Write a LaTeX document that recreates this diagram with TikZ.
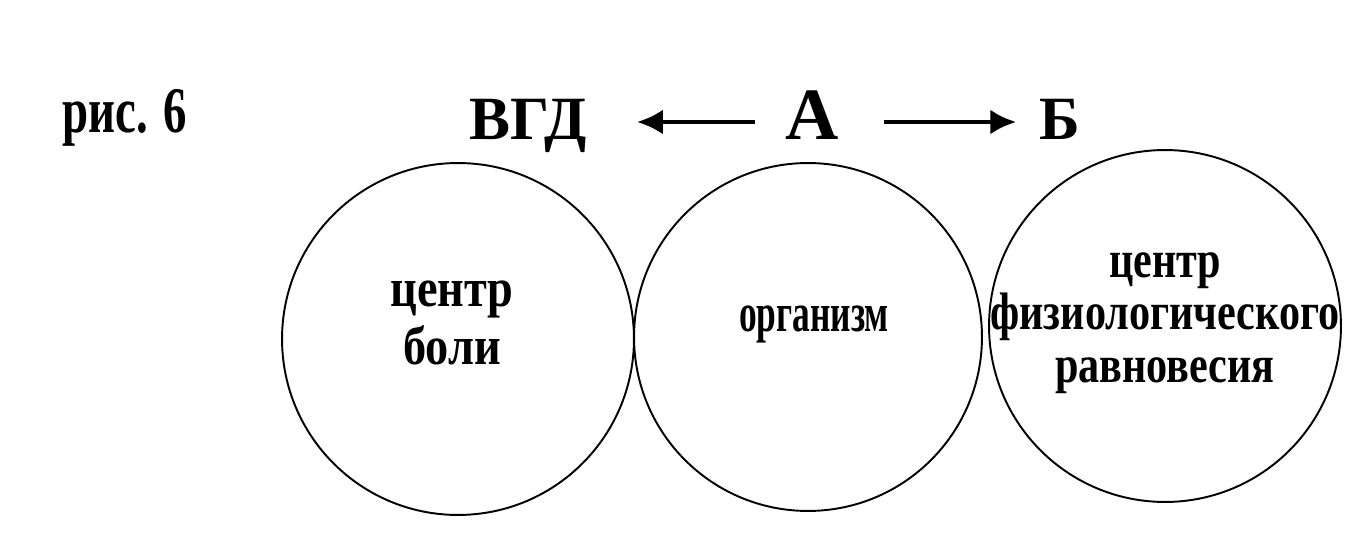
\documentclass[tikz,border=0pt]{standalone}
\usepackage{fontspec}
\setmainfont{Liberation Serif}
\newfontfamily\narrowserif[FakeStretch=0.72]{Liberation Serif}
\newfontfamily\painserif[FakeStretch=0.85]{Liberation Serif}
\newfontfamily\bodyserif[FakeStretch=0.65]{Liberation Serif}
\newfontfamily\balanceserif[FakeStretch=0.8]{Liberation Serif}
\usetikzlibrary{arrows.meta,positioning}

\begin{document}
\begin{tikzpicture}[x=0.02cm, y=-0.02cm]
			\tikzstyle{Ring}	= [circle, draw, line width=1.1pt, minimum size=7.04cm, inner sep=0pt]
			\tikzstyle{Inside}	= [align=center, inner sep=0pt]
			\tikzstyle{Head}	= [anchor=base, inner xsep=0pt, text height=0.9cm, text depth=0.18cm, font=\bfseries\fontsize{35pt}{37pt}\selectfont]
			\tikzstyle{Arr}		= [line width=0.095cm, -{Latex[length=0.52cm, width=0.5cm]}]

			\useasboundingbox (0,0) rectangle (1366,560);

			\node (fig) at (62,133) [anchor=base west, inner sep=0pt, font=\narrowserif\bfseries\fontsize{37pt}{39pt}\selectfont] {рис. 6};

			\node (hA) at (812,140) [Head, font=\bfseries\fontsize{42pt}{44pt}\selectfont] {А};
			\node (hV) at (528,140) [Head] {ВГД};
			\node (hB) at (1060,140) [Head] {Б};

			\node (c0) at (458,339) [Ring] {};
			\node (c1) at (808,337) [Ring, minimum size=6.96cm] {};
			\node (c2) at (1165,326) [Ring] {};

			\node (t0) at (452,323) [Inside, font=\painserif\bfseries\fontsize{31pt}{34pt}\selectfont] {центр\\[-1pt]боли};
			\node (t1) at (814,324) [Inside, font=\bodyserif\bfseries\fontsize{31pt}{33pt}\selectfont] {организм};
			\node (t2) at (1165,323) [Inside, font=\balanceserif\bfseries\fontsize{30pt}{30pt}\selectfont] {центр\\физиологического\\равновесия};

			\draw [shorten <=0.6cm, shorten >=1cm] (hA.west) to (hV.east) [Arr];
			\draw [shorten <=0.9cm, shorten >=0.46cm] (hA.east) to (hB.west) [Arr];
		\end{tikzpicture}
\end{document}
